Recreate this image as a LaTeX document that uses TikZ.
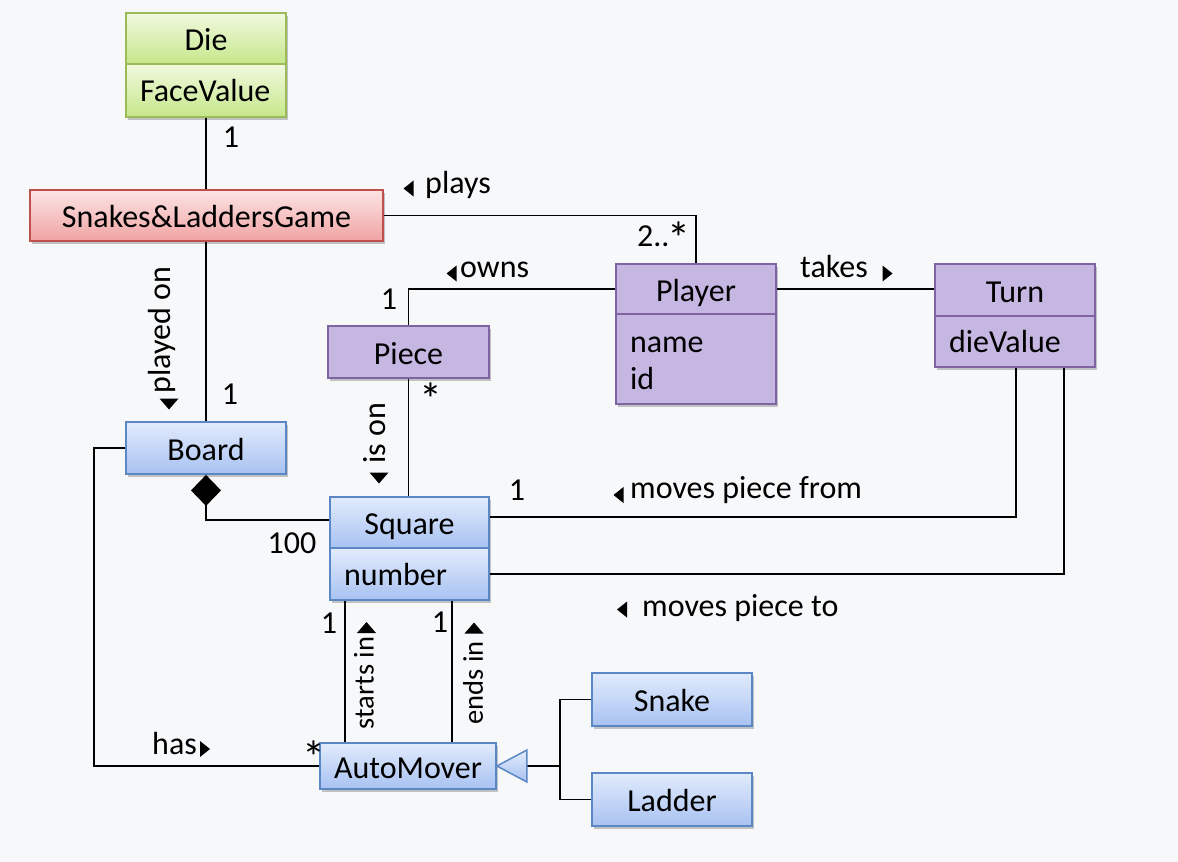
\documentclass[tikz,border=0pt]{standalone}
\usepackage{fontspec}
\setmainfont{Carlito}
\usetikzlibrary{arrows.meta,shadows}
\definecolor{bg}{HTML}{F7F8FA}
\definecolor{grT}{HTML}{F1F9DF}
\definecolor{grBt}{HTML}{C6E78A}
\definecolor{grB}{HTML}{9BBB59}
\definecolor{rdT}{HTML}{FCE4E4}
\definecolor{rdBt}{HTML}{F0A3A3}
\definecolor{rdB}{HTML}{C0504D}
\definecolor{puF}{HTML}{C6B6E2}
\definecolor{puB}{HTML}{8064A2}
\definecolor{blT}{HTML}{E2EBFC}
\definecolor{blBt}{HTML}{A8C2F2}
\definecolor{blB}{HTML}{5B87C5}
\newcommand{\fs}{\fontsize{32}{37}\selectfont}
\newcommand{\fsS}{\fontsize{28.5}{32}\selectfont}
\newcommand{\bigast}{\raisebox{-8pt}{\fontsize{46}{46}\selectfont *}}
\begin{document}
\begin{tikzpicture}[x=1pt,y=-1pt,
  boxbase/.style={line width=1.8pt, inner sep=0pt, font=\fs,
    drop shadow={shadow xshift=2pt, shadow yshift=-2.5pt, opacity=0.22, fill=black}},
  title/.style={boxbase, minimum width=160pt, minimum height=51pt, text height=24pt, text depth=0pt},
  attr/.style={boxbase, text width=132pt, inner xsep=14pt, minimum height=52pt, align=left, text height=22pt, text depth=0pt},
  green/.style={draw=grB, top color=grT, bottom color=grBt},
  red/.style={draw=rdB, top color=rdT, bottom color=rdBt},
  purple/.style={draw=puB, fill=puF},
  blue/.style={draw=blB, top color=blT, bottom color=blBt},
  conn/.style={line width=1.6pt, draw=black},
  lbl/.style={font=\fs, inner sep=0pt},
  tl/.pic={\fill (-5,0) -- (5,-8) -- (5,8) -- cycle;},
  tr/.pic={\fill (5,0) -- (-5,-8) -- (-5,8) -- cycle;},
  td/.pic={\fill (0,5.5) -- (-9.5,-5.5) -- (9.5,-5.5) -- cycle;},
  tu/.pic={\fill (0,-5.5) -- (-9.5,5.5) -- (9.5,5.5) -- cycle;}
]
\useasboundingbox (0,0) rectangle (1178,862);
\fill[bg] (0,0) rectangle (1178,862);

% classes
\node[title, green] (die) at (206,38.5) {Die};
\node[attr, green, minimum height=53pt] (dieA) at (206,90.5) {FaceValue};
\node[title, red, minimum width=353pt] (game) at (206.5,215.5) {Snakes\&LaddersGame};
\node[title, purple, minimum height=50pt] (player) at (696,289) {Player};
\node[boxbase, purple, minimum width=160pt, minimum height=90pt, text height=24pt, text depth=38pt] (playerA) at (696,359)
  {\parbox[t]{132pt}{name\\id}};
\node[title, purple, minimum height=52pt] (turn) at (1015,290) {Turn};
\node[attr, purple, minimum height=51pt] (turnA) at (1015,341.5) {dieValue};
\node[title, purple, minimum width=161pt, minimum height=52pt] (piece) at (408.5,352) {Piece};
\node[title, blue, minimum height=52pt] (board) at (206,448) {Board};
\node[title, blue, minimum width=159pt] (sq) at (409.5,522.5) {Square};
\node[attr, blue, text width=131pt] (sqA) at (409.5,574) {number};
\node[title, blue, minimum width=176pt, minimum height=46pt] (auto) at (408,766) {AutoMover};
\node[title, blue, minimum height=53pt] (snake) at (672,699.5) {Snake};
\node[title, blue, minimum height=53pt] (ladder) at (672,799.5) {Ladder};

% connectors
\draw[conn] (dieA.south) -- (dieA.south |- game.north);
\draw[conn] (game.south -| board.north) -- (board.north);
\draw[conn] (game.east) -| (player.north);
\draw[conn] (player.west) -| (piece.north);
\draw[conn] (player.east) -- (player.east -| turn.west);
\draw[conn] (piece.south) -- (piece.south |- sq.north);
\draw[conn, {Diamond[length=31pt,width=30pt]}-] (board.south) |- ([yshift=2.5pt]sq.west);
\draw[conn] (board.west) -- ++(-31,0) |- (auto.west);
\draw[conn] ([yshift=5.5pt]sq.east) -| ([xshift=1pt]turnA.south);
\draw[conn] (sqA.east) -| ([xshift=49pt]turnA.south);
\draw[conn] ([xshift=-64.5pt]sqA.south) -- ([xshift=-64.5pt]sqA.south |- auto.north);
\draw[conn] ([xshift=42.5pt]sqA.south) -- ([xshift=42.5pt]sqA.south |- auto.north);
\coordinate (gj) at (560,766);
\draw[conn] ([xshift=30pt]auto.east) -- (gj);
\draw[conn] (snake.west) -| (gj) |- (ladder.west);
\draw[draw=blB, line width=1.5pt, top color=blT, bottom color=blBt] (auto.east) -- ++(30,-16) -- ++(0,32) -- cycle;

% labels
\node[lbl] (m1) at (231,137) {1};
\node[lbl, anchor=base west] (lplays) at (425,193) {plays};
\node[lbl, anchor=base west] (m2) at (637,246) {2..\kern-2pt\bigast};
\node[lbl, anchor=base west] (lowns) at (460,277) {owns};
\node[lbl] (m3) at (389,299) {1};
\node[lbl, anchor=base west] (ltakes) at (800,277) {takes};
\node[lbl, rotate=90] (lplayed) at (162,330) {played on};
\node[lbl] (m4) at (230,394) {1};
\node[lbl, font=\fontsize{46}{46}\selectfont] (m5) at (431,399) {*};
\node[lbl, rotate=90] (lison) at (375,433) {is on};
\node[lbl] (m6) at (517,490) {1};
\node[lbl, anchor=base west] (lfrom) at (630,498) {moves piece from};
\node[lbl] (m7) at (292,543) {100};
\node[lbl, anchor=base west] (lto) at (642,616) {moves piece to};
\node[lbl] (m8) at (329,623) {1};
\node[lbl] (m9) at (440,622) {1};
\node[lbl, font=\fsS, rotate=90] (lstarts) at (364,683) {starts in};
\node[lbl, font=\fsS, rotate=90] (lends) at (473,683) {ends in};
\node[lbl, anchor=base west] (lhas) at (152,754) {has};
\node[lbl, font=\fontsize{46}{46}\selectfont] (m10) at (314,757) {*};

% direction triangles
\pic at (408.5,188.5) {tl};
\pic at (451.5,273.5) {tl};
\pic at (887.5,273.5) {tr};
\pic at (618.5,495) {tl};
\pic at (622,609.5) {tl};
\pic at (205,749) {tr};
\pic at (169,404) {td};
\pic at (379,478) {td};
\pic at (366.5,627.5) {tu};
\pic at (474,628) {tu};
\end{tikzpicture}
\end{document}
